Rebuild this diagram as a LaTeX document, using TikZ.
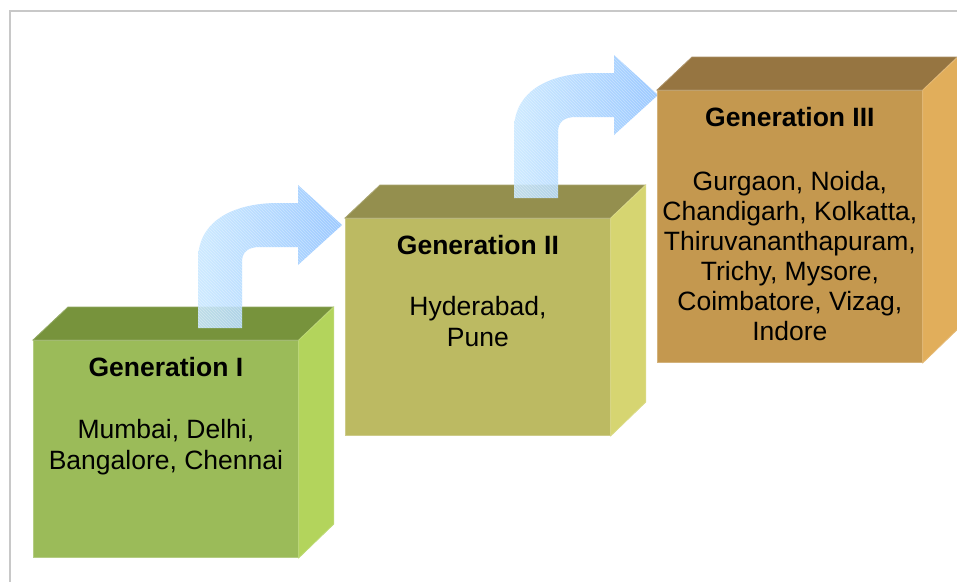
\documentclass[tikz,border=0pt]{standalone}
\usepackage{fontspec}
\setmainfont{Liberation Sans}
\usetikzlibrary{calc,patterns}
\definecolor{frameg}{HTML}{C8C8C8}
\definecolor{gAfront}{HTML}{9BBB59}
\definecolor{gAtop}{HTML}{77933C}
\definecolor{gAright}{HTML}{B3D45C}
\definecolor{gBfront}{HTML}{BCBA62}
\definecolor{gBtop}{HTML}{948F4E}
\definecolor{gBright}{HTML}{D6D571}
\definecolor{gCfront}{HTML}{C4984F}
\definecolor{gCtop}{HTML}{967541}
\definecolor{gCright}{HTML}{E1AE5B}
\definecolor{arrlight}{HTML}{C8E8FF}
\definecolor{arrdark}{HTML}{8EC2FF}
\tikzset{
  frame/.style={draw=frameg, line width=2pt},
  face/.style={rectangle, inner sep=0pt, anchor=north west, minimum width=265pt},
  edge/.style={line width=0.8pt, line join=miter},
  txt/.style={inner sep=0pt, align=center, text=black},
  bentarrow/.pic={
    \path[fill opacity=0.88, left color=arrlight, right color=arrdark]
      (0,0) -- (0,-68) .. controls (0,-110) and (40,-125) .. (80,-125) -- (100,-125)
      -- (100,-143) -- (144,-103) -- (100,-63) -- (100,-81) -- (62,-81)
      .. controls (50,-81) and (44,-76) .. (44,-66) -- (44,0) -- cycle;
    \path[pattern=north west lines, pattern color=white, opacity=0.35]
      (0,0) -- (0,-68) .. controls (0,-110) and (40,-125) .. (80,-125) -- (100,-125)
      -- (100,-143) -- (144,-103) -- (100,-63) -- (100,-81) -- (62,-81)
      .. controls (50,-81) and (44,-76) .. (44,-66) -- (44,0) -- cycle;
  }
}
\begin{document}
\begin{tikzpicture}[x=1pt,y=-1pt]
\useasboundingbox (0,0) rectangle (957,581);
\fill[white] (0,0) rectangle (957,581);
\draw[frame] (10,585) -- (10,10.5) -- (960,10.5);

% ---- Box 1 ----
\node[face, fill=gAfront, draw=gAfront!75!white, edge, minimum height=217pt] (f1) at (33,340) {};
\fill[gAtop, draw=gAtop!80!white, edge] (f1.north west) -- ++(35,-33) -- ++(265,0) -- (f1.north east) -- cycle;
\fill[gAright, draw=gAright!85!white, edge] (f1.north east) -- ++(35,-33) -- ++(0,217) -- (f1.south east) -- cycle;
\node[txt, anchor=north, font=\fontsize{26.5}{31}\selectfont] (t1) at ($(f1.north)+(0,17)$)
  {\textbf{Generation I}\\[31pt] Mumbai, Delhi,\\ Bangalore, Chennai};

% ---- Box 2 ----
\node[face, fill=gBfront, draw=gBfront!75!white, edge, minimum height=217pt] (f2) at (345,218) {};
\fill[gBtop, draw=gBtop!80!white, edge] (f2.north west) -- ++(35,-33) -- ++(265,0) -- (f2.north east) -- cycle;
\fill[gBright, draw=gBright!85!white, edge] (f2.north east) -- ++(35,-33) -- ++(0,217) -- (f2.south east) -- cycle;
\node[txt, anchor=north, font=\fontsize{26.5}{31}\selectfont] (t2) at ($(f2.north)+(0,17)$)
  {\textbf{Generation II}\\[30pt] Hyderabad,\\ Pune};

% ---- Arrows ----
\pic at (198,328) {bentarrow};
\pic at (514,198) {bentarrow};

% ---- Box 3 ----
\node[face, fill=gCfront, draw=gCfront!75!white, edge, minimum height=272pt] (f3) at (657,90) {};
\fill[gCtop, draw=gCtop!80!white, edge] (f3.north west) -- ++(35,-33) -- ++(265,0) -- (f3.north east) -- cycle;
\fill[gCright, draw=gCright!85!white, edge] (f3.north east) -- ++(35,-33) -- ++(0,272) -- (f3.south east) -- cycle;
\node[txt, anchor=north, font=\fontsize{26.5}{30}\selectfont] (t3) at ($(f3.north)+(0,17)$)
  {\textbf{Generation III}\\[34pt] Gurgaon, Noida,\\ Chandigarh, Kolkatta,\\ Thiruvananthapuram,\\ Trichy, Mysore,\\ Coimbatore, Vizag,\\ Indore};
\end{tikzpicture}
\end{document}
